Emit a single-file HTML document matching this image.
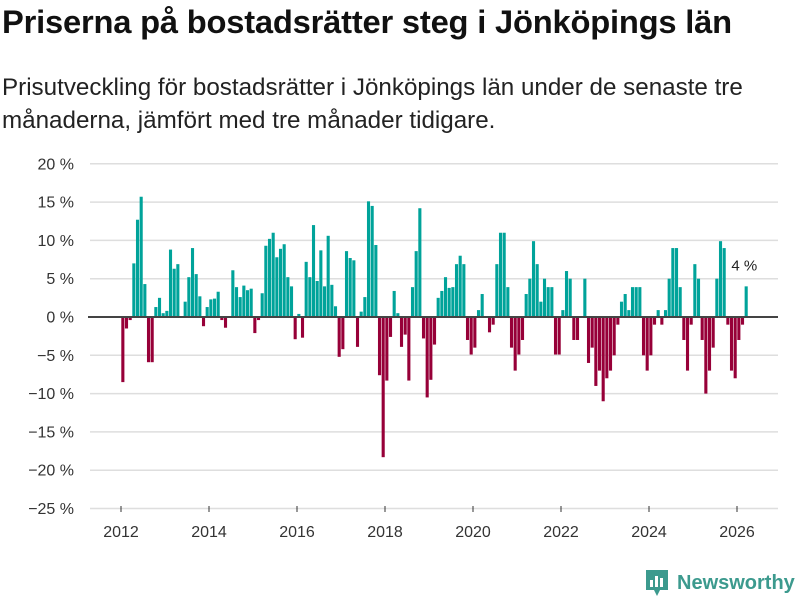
<!DOCTYPE html>
<html><head><meta charset="utf-8"><style>
body{margin:0;width:800px;height:600px;background:#fff;font-family:"Liberation Sans","DejaVu Sans",sans-serif;overflow:hidden;position:relative}
h1{position:absolute;left:2px;top:3px;margin:0;font-size:32.7px;font-weight:bold;color:#111;letter-spacing:-0.2px;white-space:nowrap}
p{position:absolute;left:2px;top:71px;margin:0;font-size:24.2px;line-height:33px;color:#222;width:775px}
svg{position:absolute;left:0;top:0}
</style></head><body>
<h1>Priserna på bostadsrätter steg i Jönköpings län</h1>
<p>Prisutveckling för bostadsrätter i Jönköpings län under de senaste tre månaderna, jämfört med tre månader tidigare.</p>
<svg id="chart" width="800" height="600"></svg>
<script>
const startYear = 2012;
const values = [-8.5,-1.5,-0.4,7.0,12.7,15.7,4.3,-5.9,-5.9,1.3,2.5,0.5,0.8,8.8,6.3,6.9,0,2.0,5.2,9.0,5.6,2.7,-1.2,1.3,2.3,2.4,3.3,-0.4,-1.4,0,6.1,3.9,2.6,4.1,3.5,3.7,-2.1,-0.4,3.1,9.3,10.2,
11.0,7.8,8.9,9.5,5.2,4.0,-2.9,0.4,-2.7,7.2,5.2,12.0,4.7,8.7,4.0,10.6,4.2,1.4,-5.2,-4.2,8.6,7.7,7.4,-3.9,0.7,2.6,15.1,14.5,9.4,-7.6,-18.3,-8.3,-2.6,3.4,0.5,-3.9,-2.3,-8.3,3.9,8.6,14.2,
-2.8,-10.5,-8.2,-3.6,2.5,3.4,5.2,3.8,3.9,6.9,8.0,6.9,-3.0,-4.9,-4.0,0.9,3.0,0,-2.0,-1.0,6.9,11.0,11.0,3.9,-4.0,-7.0,-4.9,-3.0,3.0,5.0,9.9,6.9,2.0,5.0,3.9,3.9,-4.9,-4.9,0.9,6.0,5.0,-3.0,-3.0,0,5.0,
-6.0,-4.0,-9.0,-7.0,-11.0,-8.0,-7.0,-5.0,-1.0,2.0,3.0,0.9,3.9,3.9,3.9,-5.0,-7.0,-5.0,-1.0,0.9,-1.0,0.9,5.0,9.0,9.0,3.9,-3.0,-7.0,-1.0,6.9,5.0,-3.0,-10.0,-7.0,-4.0,5.0,9.9,9.0,-1.0,-7.0,-8.0,-3.0,-1.0,4];
const yTicks = [20,15,10,5,0,-5,-10,-15,-20,-25];
const xTicks = [2012,2014,2016,2018,2020,2022,2024,2026];
const lastLabel = "4 %";

const svg = document.getElementById('chart');
const NS = 'http://www.w3.org/2000/svg';
function y(v){return 317 - v*7.66;}
function x(m){return 121 + m*44/12;}
function mk(t,a){const e=document.createElementNS(NS,t);for(const k in a)e.setAttribute(k,a[k]);svg.appendChild(e);return e;}
yTicks.forEach(v=>{
  const g=mk('line',{x1:90,x2:778,y1:y(v),y2:y(v),stroke:'#dedede','stroke-width':1.5});
  
  
  const t=mk('text',{x:74,y:y(v)+5.5,'text-anchor':'end','font-size':16,fill:'#333'});
  t.textContent=String(v).replace('-','\u2212')+' %';
  
  
});
xTicks.forEach(yr=>{
  const px=x((yr-startYear)*12);
  const l=mk('line',{x1:px,x2:px,y1:506,y2:512,stroke:'#333','stroke-width':1});
  
  
  const t=mk('text',{x:px,y:537,'text-anchor':'middle','font-size':16,fill:'#333'});
  t.textContent=yr;
  
  
});
values.forEach((v,i)=>{
  const r=mk('rect',{x:x(i)+0.3,width:3.1,y:Math.min(y(v),y(0)),height:Math.abs(y(v)-y(0)),fill:v>=0?'#00a39a':'#970038'});
  
  
});
const base=mk('line',{x1:88,x2:778,y1:y(0),y2:y(0),stroke:'#444','stroke-width':2});


const lbl=mk('text',{x:x(values.length-1),y:y(values[values.length-1])-16,'text-anchor':'middle','font-size':15,fill:'#222'});
lbl.textContent=lastLabel;


</script>
<div style="position:absolute;left:645px;top:568px;display:flex;align-items:center">
<svg width="24" height="30" style="position:static"><path d="M1 2h22v20h-8l-3 6-3-6H1z" fill="#3c9a8e"/><rect x="5" y="12" width="3" height="7" fill="#fff"/><rect x="10" y="8" width="3" height="11" fill="#fff"/><rect x="15" y="10" width="3" height="9" fill="#fff"/></svg>
<span style="font-size:20px;font-weight:bold;color:#3c9a8e;margin-left:8px">Newsworthy</span></div>
</body></html>
